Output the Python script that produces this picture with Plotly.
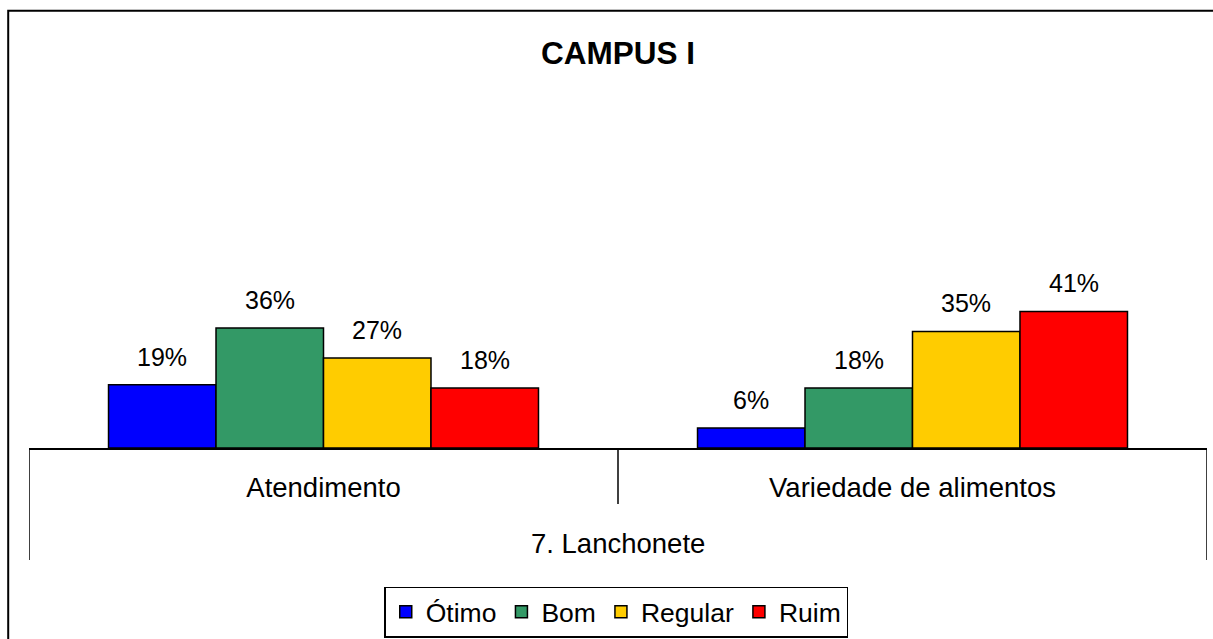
import plotly.graph_objects as go

# ---- data ----
categories = ["Atendimento", "Variedade de alimentos"]
series_names = ["Ótimo", "Bom", "Regular", "Ruim"]
otimo = [19, 6]
bom = [36, 18]
regular = [27, 35]
ruim = [18, 41]
group_label = "7. Lanchonete"
title_text = "CAMPUS I"

series_values = [otimo, bom, regular, ruim]
colors = ["#0000FF", "#339966", "#FFCC00", "#FF0000"]

# ---- layout geometry ----
W, H = 1213, 639
L, R, T, B = 29, 5.5, 98, 191
plot_w = W - L - R
plot_h = H - T - B
ymax = 105.1
bargap = 0.27
FONT = "Liberation Sans, Arial, sans-serif"


def px_x(px):
    return (px - L) / plot_w


def px_y(py):
    return (H - B - py) / plot_h


fig = go.Figure()
for name, vals, col in zip(series_names, series_values, colors):
    fig.add_trace(go.Bar(
        x=categories, y=vals, name=name,
        marker=dict(color=col, line=dict(color="black", width=1.5)),
        hoverinfo="x+y+name",
    ))

# data labels
n = len(series_names)
gw = 1 - bargap
annotations = []
for i, vals in enumerate(series_values):
    off = -gw / 2 + (i + 0.5) * gw / n
    for j, v in enumerate(vals):
        annotations.append(dict(
            x=j + off, y=v, xref="x", yref="y", text=f"{v}%",
            showarrow=False, yanchor="bottom", yshift=12,
            font=dict(family=FONT, size=25, color="black"),
        ))

# outer-level category label
annotations.append(dict(
    x=0.5, y=px_y(543), xref="paper", yref="paper", text=group_label,
    showarrow=False, yanchor="middle", xanchor="center",
    font=dict(family=FONT, size=27.5, color="black"),
))

shapes = []
# outer chart border
shapes.append(dict(type="rect", xref="paper", yref="paper",
                   x0=px_x(8.2), x1=px_x(1230), y0=px_y(660), y1=px_y(10.8),
                   line=dict(color="black", width=2), fillcolor="rgba(0,0,0,0)",
                   layer="below"))
# category boundary lines
ncat = len(categories)
for k in range(ncat + 1):
    xb = k - 0.5
    bottom_px = 560 if k in (0, ncat) else 504
    shapes.append(dict(type="line", xref="x", yref="paper",
                       x0=xb, x1=xb, y0=0, y1=px_y(bottom_px),
                       line=dict(color="black", width=1.5)))

fig.update_layout(
    width=W, height=H,
    margin=dict(l=L, r=R, t=T, b=B, pad=0, autoexpand=False),
    paper_bgcolor="white", plot_bgcolor="white",
    barmode="group", bargap=bargap, bargroupgap=0,
    title=dict(text=title_text, x=0.5, xref="paper", xanchor="center",
               y=1 - 52.5 / H, yref="container", yanchor="middle",
               font=dict(family=FONT, size=31.5, color="black", weight="bold")),
    xaxis=dict(type="category", range=[-0.5, ncat - 0.5], showline=True,
               linecolor="black", linewidth=1.5, showgrid=False,
               ticks="outside", ticklen=14, tickcolor="rgba(0,0,0,0)",
               tickfont=dict(family=FONT, size=27.5, color="black"),
               fixedrange=True),
    yaxis=dict(range=[0, ymax], visible=False, showgrid=False, zeroline=False,
               fixedrange=True),
    legend=dict(orientation="h", x=px_x(616.5), xanchor="center",
                y=px_y(586.5), yanchor="top", bordercolor="black", borderwidth=1.5,
                font=dict(family=FONT, size=26.5, color="black"),
                traceorder="normal", bgcolor="white"),
    annotations=annotations,
    shapes=shapes,
    showlegend=True,
)

fig.write_html("out.html",
               config={"displayModeBar": False},
               post_script="document.body.style.margin='0';document.body.style.padding='0';")
